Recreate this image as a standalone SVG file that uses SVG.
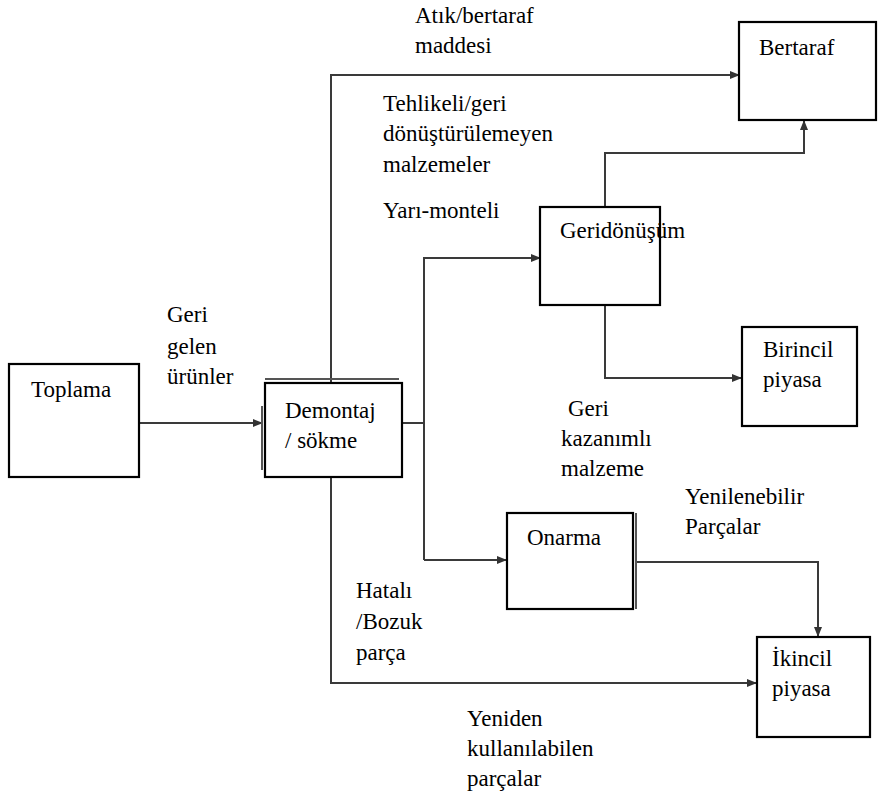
<svg xmlns="http://www.w3.org/2000/svg" width="878" height="804" viewBox="0 0 878 804">
<defs>
<marker id="ah" markerWidth="10" markerHeight="8" refX="9" refY="4" orient="auto" markerUnits="userSpaceOnUse">
<path d="M0,0 L10,4 L0,8 Z" fill="#333"/>
</marker>
<style>
.box{fill:#fff;stroke:#000;stroke-width:2.2}
.sh{fill:none;stroke:#555;stroke-width:2}
.ln{fill:none;stroke:#3a3a3a;stroke-width:2}
</style>
</defs>
<rect width="878" height="804" fill="#fff"/>
<g id="connectors">
<path class="ln" d="M140,423 H262" marker-end="url(#ah)"/>
<path class="ln" d="M331,383 V75 H739" marker-end="url(#ah)"/>
<path class="ln" d="M402,423 H424"/>
<path class="ln" d="M424,560 V258 H540" marker-end="url(#ah)"/>
<path class="ln" d="M424,560 H506" marker-end="url(#ah)"/>
<path class="ln" d="M605,207 V153 H804 V121" marker-end="url(#ah)"/>
<path class="ln" d="M605,305 V378 H741" marker-end="url(#ah)"/>
<path class="ln" d="M636,562 H818 V636" marker-end="url(#ah)"/>
<path class="ln" d="M331,477 V683 H756" marker-end="url(#ah)"/>
</g>
<g id="toplama">
<rect class="box" x="9" y="364" width="130" height="113"/>
<text x="31" y="397" font-family="Times New Roman" font-size="23">Toplama</text>
</g>
<g id="demontaj">
<path class="sh" d="M265,379 H399 M262,406 V470"/>
<rect class="box" x="265" y="383" width="137" height="94"/>
<text x="285" y="418" font-family="Times New Roman" font-size="23">Demontaj</text>
<text x="285" y="448" font-family="Times New Roman" font-size="23">/ sökme</text>
</g>
<g id="bertaraf">
<rect class="box" x="739" y="22" width="137" height="98"/>
<text x="759" y="55" font-family="Times New Roman" font-size="23">Bertaraf</text>
</g>
<g id="geridonusum">
<rect class="box" x="540" y="207" width="120" height="98"/>
<text x="560" y="238" font-family="Times New Roman" font-size="23">Geridönüşüm</text>
</g>
<g id="birincil">
<rect class="box" x="742" y="327" width="115" height="99"/>
<text x="763" y="357" font-family="Times New Roman" font-size="23">Birincil</text>
<text x="763" y="387" font-family="Times New Roman" font-size="23">piyasa</text>
</g>
<g id="onarma">
<path class="sh" d="M636,513 V609"/>
<rect class="box" x="507" y="513" width="126" height="96"/>
<text x="527" y="545" font-family="Times New Roman" font-size="23">Onarma</text>
</g>
<g id="ikincil">
<rect class="box" x="757" y="637" width="113" height="100"/>
<text x="772" y="666" font-family="Times New Roman" font-size="23">İkincil</text>
<text x="772" y="696" font-family="Times New Roman" font-size="23">piyasa</text>
</g>
<g id="labels">
<text x="415" y="23" font-family="Times New Roman" font-size="23">Atık/bertaraf</text>
<text x="415" y="53" font-family="Times New Roman" font-size="23">maddesi</text>
<text x="383" y="111" font-family="Times New Roman" font-size="23">Tehlikeli/geri</text>
<text x="383" y="141" font-family="Times New Roman" font-size="23">dönüştürülemeyen</text>
<text x="383" y="172" font-family="Times New Roman" font-size="23">malzemeler</text>
<text x="383" y="218" font-family="Times New Roman" font-size="23">Yarı-monteli</text>
<text x="167" y="322" font-family="Times New Roman" font-size="23">Geri</text>
<text x="167" y="354" font-family="Times New Roman" font-size="23">gelen</text>
<text x="167" y="384" font-family="Times New Roman" font-size="23">ürünler</text>
<text x="568" y="416" font-family="Times New Roman" font-size="23">Geri</text>
<text x="561" y="446" font-family="Times New Roman" font-size="23">kazanımlı</text>
<text x="561" y="476" font-family="Times New Roman" font-size="23">malzeme</text>
<text x="685" y="504" font-family="Times New Roman" font-size="23">Yenilenebilir</text>
<text x="685" y="534" font-family="Times New Roman" font-size="23">Parçalar</text>
<text x="356" y="598" font-family="Times New Roman" font-size="23">Hatalı</text>
<text x="356" y="629" font-family="Times New Roman" font-size="23">/Bozuk</text>
<text x="356" y="660" font-family="Times New Roman" font-size="23">parça</text>
<text x="467" y="726" font-family="Times New Roman" font-size="23">Yeniden</text>
<text x="467" y="756" font-family="Times New Roman" font-size="23">kullanılabilen</text>
<text x="467" y="786" font-family="Times New Roman" font-size="23">parçalar</text>
</g>
</svg>
